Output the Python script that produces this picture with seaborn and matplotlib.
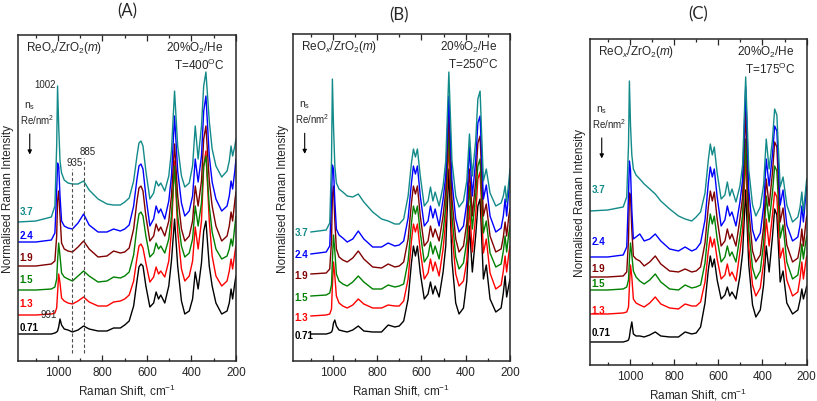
import numpy as np
import pandas as pd
import seaborn as sns
import matplotlib.pyplot as plt
from matplotlib.ticker import MultipleLocator

# Raman shift grid (cm-1) shared by all traces
shift = [1180, 1100, 1030, 1014, 1006, 1002, 997, 991, 984, 972,
         955, 935, 910, 885, 860, 820, 780, 750, 720, 700,
         680, 660, 645, 636, 627, 618, 605, 587, 570, 559,
         548, 538, 520, 502, 490, 476, 462, 445, 430, 410,
         395, 383, 370, 355, 345, 335, 320, 307, 290, 264,
         240, 230, 222, 215, 205, 200]

loadings = ['3.7', '2.4', '1.9', '1.5', '1.3', '0.71']
colors = ['#138a8a', '#0000ff', '#800000', '#008000', '#ff0000', '#000000']

# (A) T=400 C  -- intensities (offset stacked)
a37 = [139, 140, 144, 155, 215, 275, 235, 200, 188, 181, 178, 177, 177, 180, 171, 162, 157, 156, 156, 159,
       163, 180, 205, 218, 220, 215, 190, 162, 168, 180, 175, 178, 170, 185, 210, 270, 215, 185, 174, 178,
       195, 235, 202, 235, 275, 289, 240, 212, 195, 184, 190, 200, 215, 205, 215, 222]
a24 = [119, 119, 121, 128, 170, 198, 195, 165, 140, 135, 133, 132, 138, 147, 136, 129, 129, 132, 130, 132,
       136, 155, 182, 195, 197, 192, 165, 135, 142, 155, 148, 152, 142, 160, 185, 245, 190, 158, 145, 150,
       165, 202, 179, 205, 250, 265, 205, 179, 162, 150, 155, 165, 180, 172, 190, 202]
a19 = [95, 95, 97, 100, 125, 160, 170, 145, 118, 112, 110, 109, 114, 120, 112, 104, 105, 110, 108, 109,
       113, 132, 160, 173, 175, 170, 145, 120, 125, 137, 130, 134, 125, 140, 165, 217, 165, 132, 120, 125,
       140, 175, 155, 180, 222, 235, 180, 155, 135, 120, 125, 135, 149, 140, 160, 169]
a15 = [71, 71, 72, 74, 82, 100, 118, 105, 88, 84, 82, 80, 85, 90, 85, 79, 80, 84, 83, 85,
       89, 106, 134, 147, 149, 145, 125, 104, 108, 118, 112, 115, 108, 122, 145, 195, 145, 115, 104, 108,
       122, 155, 135, 158, 195, 205, 155, 129, 112, 102, 105, 112, 122, 115, 135, 145]
a13 = [46, 46, 47, 48, 53, 68, 87, 78, 63, 60, 58, 57, 60, 64, 59, 55, 55, 59, 60, 62,
       66, 80, 103, 115, 117, 113, 98, 79, 84, 94, 87, 90, 84, 100, 130, 200, 130, 92, 80, 85,
       100, 134, 112, 140, 195, 210, 140, 105, 85, 75, 80, 90, 102, 92, 108, 115]
a071 = [27, 27, 27, 28, 29, 30, 34, 42, 36, 32, 31, 29, 31, 35, 32, 30, 30, 33, 33, 36,
        40, 55, 80, 94, 97, 95, 75, 54, 58, 69, 62, 66, 58, 75, 100, 142, 95, 60, 47, 50,
        62, 89, 72, 98, 130, 140, 95, 75, 58, 47, 50, 58, 72, 62, 78, 85]

# (B) T=250 C
b37 = [np.nan, 129, 131, 138, 200, 282, 235, 195, 178, 172, 169, 165, 164, 167, 159, 149, 142, 140, 137, 137,
       142, 165, 198, 212, 204, 212, 185, 155, 160, 174, 160, 169, 155, 175, 200, 289, 200, 165, 154, 160,
       180, 227, 185, 220, 262, 270, 180, 192, 168, 155, 158, 165, 175, 159, 180, 192]
b24 = [np.nan, 107, 109, 115, 160, 196, 192, 160, 132, 126, 123, 119, 122, 130, 122, 114, 114, 118, 115, 116,
       120, 143, 178, 195, 187, 195, 165, 135, 140, 155, 143, 152, 135, 162, 185, 265, 180, 142, 129, 135,
       158, 214, 165, 200, 238, 245, 162, 176, 145, 129, 133, 145, 162, 145, 172, 185]
b19 = [np.nan, 87, 88, 92, 120, 165, 175, 140, 112, 104, 101, 99, 103, 110, 102, 94, 93, 97, 94, 95,
       99, 122, 158, 175, 167, 175, 145, 115, 120, 135, 124, 132, 120, 145, 170, 249, 162, 122, 109, 115,
       138, 192, 145, 180, 218, 225, 145, 157, 125, 109, 112, 124, 139, 125, 145, 152]
b15 = [np.nan, 65, 66, 68, 76, 100, 126, 110, 87, 80, 77, 75, 79, 85, 79, 72, 72, 76, 74, 75,
       77, 100, 138, 155, 147, 155, 128, 99, 105, 119, 107, 115, 102, 129, 155, 235, 145, 104, 92, 98,
       120, 175, 132, 165, 195, 202, 128, 140, 108, 94, 97, 110, 125, 109, 128, 135]
b13 = [np.nan, 45, 46, 47, 52, 75, 99, 85, 65, 58, 55, 53, 56, 62, 57, 53, 53, 56, 55, 55,
       60, 82, 120, 137, 129, 137, 110, 82, 88, 102, 90, 99, 85, 112, 140, 219, 128, 87, 75, 80,
       100, 155, 109, 145, 182, 189, 108, 122, 88, 72, 76, 90, 105, 89, 108, 115]
b071 = [np.nan, 27, 27, 28, 29, 31, 38, 41, 35, 31, 30, 29, 31, 35, 30, 29, 29, 36, 34, 35,
        40, 62, 98, 115, 105, 115, 88, 62, 67, 79, 67, 75, 64, 89, 115, 192, 100, 58, 47, 53,
        80, 135, 89, 125, 155, 162, 82, 96, 62, 49, 53, 68, 85, 64, 76, 82]

# (C) T=175 C
c37 = [154, 155, 158, 168, 220, 284, 240, 210, 196, 190, 186, 181, 176, 171, 164, 156, 149, 146, 144, 148,
       153, 172, 205, 221, 210, 218, 192, 166, 170, 183, 169, 176, 163, 179, 200, 288, 195, 160, 149, 158,
       180, 226, 196, 225, 256, 250, 178, 188, 160, 143, 148, 158, 173, 153, 175, 186]
c24 = [108, 108, 110, 118, 170, 204, 195, 155, 126, 128, 131, 124, 126, 131, 124, 116, 114, 118, 114, 116,
       122, 145, 182, 198, 188, 196, 168, 139, 145, 159, 149, 153, 139, 163, 185, 278, 175, 135, 124, 132,
       158, 206, 179, 210, 239, 234, 160, 175, 140, 124, 128, 140, 159, 143, 168, 179]
c19 = [88, 88, 89, 93, 125, 172, 170, 135, 109, 106, 104, 99, 103, 109, 101, 94, 93, 96, 93, 94,
       98, 122, 158, 174, 164, 173, 146, 119, 124, 136, 126, 131, 119, 146, 168, 254, 155, 114, 103, 110,
       138, 186, 159, 192, 223, 218, 143, 157, 120, 103, 107, 119, 136, 119, 140, 149]
c15 = [75, 75, 76, 78, 85, 105, 122, 110, 94, 88, 84, 81, 85, 91, 83, 76, 75, 80, 77, 78,
       80, 102, 136, 151, 141, 149, 126, 103, 108, 119, 109, 113, 103, 129, 150, 226, 135, 97, 86, 94,
       122, 169, 143, 172, 199, 194, 127, 140, 103, 86, 90, 104, 121, 106, 122, 129]
c13 = [51, 51, 52, 53, 58, 78, 100, 88, 66, 62, 60, 58, 62, 68, 61, 57, 56, 61, 59, 59,
       63, 83, 114, 128, 118, 126, 106, 86, 90, 101, 89, 93, 84, 113, 135, 210, 118, 80, 69, 77,
       102, 146, 119, 150, 173, 168, 107, 117, 85, 69, 73, 87, 103, 86, 102, 109]
c071 = [23, 23, 23, 24, 25, 28, 36, 43, 31, 29, 29, 28, 30, 33, 29, 28, 28, 33, 31, 32,
        38, 62, 95, 109, 98, 106, 85, 66, 70, 78, 69, 73, 66, 89, 112, 175, 100, 60, 48, 55,
        80, 119, 93, 128, 156, 150, 83, 94, 62, 51, 55, 65, 76, 66, 74, 79]

# height of the loading labels on the left of each panel
label_y_a = [150, 126, 104, 82, 58, 34]
label_y_b = [129, 107, 86, 64, 44, 26]
label_y_c = [176, 124, 97, 82, 55, 33]

sns.set_style('ticks')
plt.rcParams['font.family'] = ['Liberation Sans', 'DejaVu Sans']
plt.rcParams['mathtext.fontset'] = 'custom'
plt.rcParams['mathtext.rm'] = 'Liberation Sans'
plt.rcParams['mathtext.it'] = 'Liberation Sans:italic'

fig = plt.figure(figsize=(8.17, 4.02), dpi=100)
ax_a = fig.add_axes([0.0220, 0.0995, 0.2668, 0.8109])
ax_b = fig.add_axes([0.3586, 0.0995, 0.2656, 0.8134])
ax_c = fig.add_axes([0.7222, 0.0896, 0.2652, 0.8109])


def draw_panel(ax, traces, label_y, temp, ymax):
    df = pd.DataFrame({
        'shift': shift * len(traces),
        'intensity': np.concatenate([np.asarray(t, dtype=float) for t in traces]),
        'loading': np.repeat(loadings, len(shift)),
    })
    sns.lineplot(data=df, x='shift', y='intensity', hue='loading',
                 hue_order=loadings[::-1], palette=dict(zip(loadings, colors)),
                 sort=False, estimator=None, legend=False, linewidth=1.0, ax=ax)
    ax.set_xlim(1180, 200)
    ax.set_ylim(0, ymax)
    ax.set_xticks([1000, 800, 600, 400, 200])
    ax.xaxis.set_minor_locator(MultipleLocator(100))
    ax.set_yticks([])
    ax.tick_params(axis='x', which='both', direction='in', top=True, bottom=True, labelsize=8.5)
    ax.tick_params(axis='x', which='major', length=4, width=0.9)
    ax.tick_params(axis='x', which='minor', length=2.5, width=0.9)
    for s in ax.spines.values():
        s.set_linewidth(1.1)
    ax.set_xlabel('Raman Shift, cm$^{-1}$', fontsize=8.5, labelpad=3)
    ax.set_ylabel('Normalised Raman Intensity', fontsize=8.5, labelpad=3)

    for lab, yy, c in zip(loadings, label_y, colors):
        ax.text(1172, yy, lab, color=c, fontsize=7, fontweight='bold', ha='left', va='center')

    ax.text(0.035, 0.963, 'ReO$_x$/ZrO$_2$($m$)', transform=ax.transAxes, fontsize=8.5, ha='left', va='center')
    ax.text(0.81, 0.963, '20%O$_2$/He', transform=ax.transAxes, fontsize=8.5, ha='center', va='center')
    ax.text(0.83, 0.91, 'T=' + temp + '$^{\\mathrm{O}}$C', transform=ax.transAxes, fontsize=8.5, ha='center', va='center')
    ax.text(0.055, 0.785, 'n$_{\\mathrm{s}}$', transform=ax.transAxes, fontsize=7.5, ha='center', va='center')
    ax.text(0.09, 0.743, 'Re/nm$^{2}$', transform=ax.transAxes, fontsize=7, ha='center', va='center')
    ax.annotate('', xy=(0.054, 0.625), xytext=(0.054, 0.705), xycoords='axes fraction',
                arrowprops=dict(arrowstyle='-|>', color='black', lw=0.8, mutation_scale=6))


draw_panel(ax_a, [a37, a24, a19, a15, a13, a071], label_y_a, '400', 326)
draw_panel(ax_b, [b37, b24, b19, b15, b13, b071], label_y_b, '250', 327)
draw_panel(ax_c, [c37, c24, c19, c15, c13, c071], label_y_c, '175', 326)

# band annotations in panel A
ax_a.vlines([935, 885], 8, [192, 203], colors='0.3', linestyles=(0, (3, 2)), linewidth=0.8)
ax_a.text(1008, 277, '1002', fontsize=7, ha='right', va='center')
ax_a.text(1003, 47, '991', fontsize=7, ha='right', va='center')
ax_a.text(926, 199, '935', fontsize=7, ha='center', va='center')
ax_a.text(868, 210, '885', fontsize=7, ha='center', va='center')

fig.text(127 / 817, 1 - 11 / 402, '(A)', fontsize=12, family=['Lato', 'DejaVu Sans'], ha='center', va='center')
fig.text(399 / 817, 1 - 15 / 402, '(B)', fontsize=12, family=['Lato', 'DejaVu Sans'], ha='center', va='center')
fig.text(698 / 817, 1 - 14 / 402, '(C)', fontsize=12, family=['Lato', 'DejaVu Sans'], ha='center', va='center')

fig.savefig('out.png', dpi=100)
